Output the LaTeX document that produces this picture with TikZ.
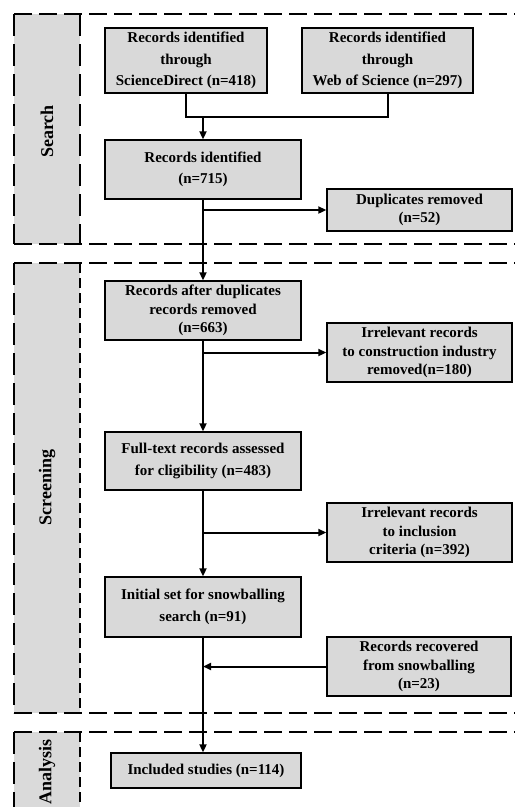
\documentclass[tikz,border=0pt]{standalone}
\usepackage{fontspec}
\setmainfont{Liberation Serif}
\usetikzlibrary{arrows.meta}
\definecolor{boxgray}{HTML}{D9D9D9}
\definecolor{panelgray}{HTML}{DADADA}
\begin{document}
\begin{tikzpicture}[x=1pt,y=-1pt,
  box/.style={draw=black, line width=1.4pt, fill=boxgray, align=center,
    inner sep=0pt, font=\bfseries\fontsize{15}{18.5}\selectfont},
  wide/.style={font=\bfseries\fontsize{15}{21.5}\selectfont},
  sect/.style={line width=2.8pt, dash pattern=on 18pt off 7pt},
  sidelong/.style={line width=2.6pt, dash pattern=on 22pt off 8pt},
  sideshort/.style={line width=2.6pt, dash pattern=on 10pt off 5pt},
  phase/.style={font=\bfseries\fontsize{18}{20}\selectfont, rotate=90, inner sep=0pt},
  conn/.style={line width=2pt},
  arr/.style={conn, -{Triangle[length=8pt,width=7pt]}}]

\clip (0,0) rectangle (515,807);
\useasboundingbox (0,0) rectangle (515,807);

% phase panels
\fill[panelgray] (14,14) rectangle (80,244);
\fill[panelgray] (14,263) rectangle (80,713);
\fill[panelgray] (14,732) rectangle (80,812);
\draw[sidelong] (14,14) -- (14,244);
\draw[sidelong] (80,14) -- (80,244);
\draw[sidelong] (14,263) -- (14,713);
\draw[sideshort] (80,263) -- (80,713);
\draw[sidelong] (14,732) -- (14,812);
\draw[sideshort] (80,732) -- (80,812);

% section separators
\draw[sect] (14,14) -- (515,14);
\draw[sect] (14,244) -- (515,244);
\draw[sect] (14,263) -- (515,263);
\draw[sect] (14,713) -- (515,713);
\draw[sect] (14,732) -- (515,732);

% phase labels
\node[phase] (lsearch) at (47,131.5) {Search};
\node[phase] (lscreen) at (47,487.5) {Screening};
\node[phase] (lanalysis) at (47,771.5) {Analysis};

% boxes
\node[box, wide, minimum width=162pt, minimum height=65pt] (sd) at (186,60.5)
  {Records identified\\through\\ScienceDirect (n=418)};
\node[box, wide, minimum width=171pt, minimum height=65pt] (wos) at (387.5,60.5)
  {Records identified\\through\\Web of Science (n=297)};
\node[box, wide, minimum width=196pt, minimum height=59pt] (rid) at (203,169.5)
  {Records identified\\(n=715)};
\node[box, minimum width=185pt, minimum height=42pt] (dup) at (419.5,210)
  {Duplicates removed\\(n=52)};
\node[box, minimum width=196pt, minimum height=59pt] (rad) at (203,310.5)
  {Records after duplicates\\records removed\\(n=663)};
\node[box, minimum width=185pt, minimum height=59pt] (irr1) at (419.5,352.5)
  {Irrelevant records\\to construction industry\\removed(n=180)};
\node[box, wide, minimum width=196pt, minimum height=58pt] (ft) at (203,461)
  {Full-text records assessed\\for cligibility (n=483)};
\node[box, minimum width=185pt, minimum height=59pt] (irr2) at (419.5,532.5)
  {Irrelevant records\\to inclusion\\criteria (n=392)};
\node[box, wide, minimum width=196pt, minimum height=60pt] (init) at (203,607)
  {Initial set for snowballing\\search (n=91)};
\node[box, minimum width=184pt, minimum height=59pt] (rec) at (419,666.5)
  {Records recovered\\from snowballing\\(n=23)};
\node[box, minimum width=190pt, minimum height=35pt] (inc) at (206,770.5)
  {Included studies (n=114)};

% connectors
\coordinate (j) at (203,117);
\draw[conn] (sd.south) |- (j) -| (wos.south);
\draw[arr] (j) -- (rid.north);
\draw[arr] (rid.south) -- (rad.north);
\draw[arr] (rid.south |- dup.west) -- (dup.west);
\draw[arr] (rad.south) -- (ft.north);
\draw[arr] (rad.south |- irr1.west) -- (irr1.west);
\draw[arr] (ft.south) -- (init.north);
\draw[arr] (ft.south |- irr2.west) -- (irr2.west);
\draw[arr] (init.south) -- (init.south |- inc.north);
\draw[arr] (rec.west) -- (init.south |- rec.west);
\end{tikzpicture}
\end{document}
